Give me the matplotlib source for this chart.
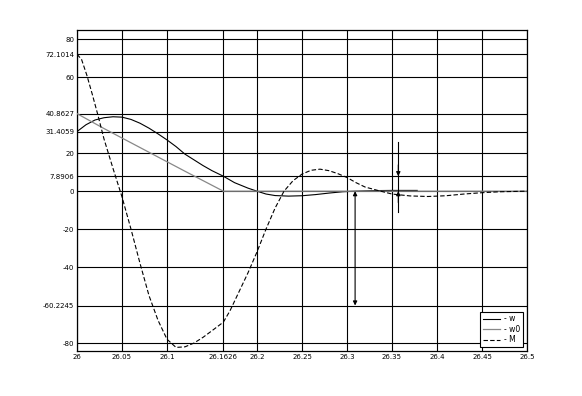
import matplotlib
matplotlib.use('Agg')
import matplotlib.pyplot as plt

# Осі та підписи
x_ticks = [26, 26.05, 26.1, 26.1626, 26.2, 26.25, 26.3, 26.35, 26.4, 26.45, 26.5]
x_labels = ["26", "26.05", "26.1", "26.1626", "26.2", "26.25", "26.3", "26.35", "26.4", "26.45", "26.5"]
y_ticks = [80, 72.1014, 60, 40.8627, 31.4059, 20, 7.8906, 0, -20, -40, -60.2245, -80]
y_labels = ["80", "72.1014", "60", "40.8627", "31.4059", "20", "7.8906", "0", "-20", "-40", "-60.2245", "-80"]

# Крива w (суцільна чорна)
w_x = [26.0, 26.01, 26.02, 26.03, 26.04, 26.05, 26.06, 26.07, 26.08, 26.09, 26.1,
       26.11, 26.12, 26.13, 26.14, 26.15, 26.1626, 26.175, 26.19, 26.2, 26.21,
       26.22, 26.235, 26.25, 26.265, 26.28, 26.295, 26.31, 26.33, 26.35, 26.378]
w_y = [31.4, 35.0, 37.5, 38.7, 39.2, 39.0, 37.8, 35.8, 33.2, 30.2, 27.0,
       23.5, 19.5, 16.5, 13.5, 10.8, 7.89, 4.5, 1.6, 0.0, -1.5,
       -2.3, -2.6, -2.4, -1.8, -1.0, -0.3, 0.0, 0.3, 0.4, 0.4]

# Крива w0 (сіра)
w0_x = [26.0, 26.03, 26.06, 26.09, 26.12, 26.1626, 26.5]
w0_y = [40.86, 33.0, 25.5, 18.0, 10.5, 0.0, 0.0]

# Крива M (штрихова)
m_x = [26.0, 26.005, 26.011, 26.017, 26.023, 26.03, 26.04, 26.05, 26.06, 26.07,
       26.08, 26.09, 26.1, 26.11, 26.12, 26.13, 26.14, 26.15, 26.1626, 26.17,
       26.18, 26.19, 26.2, 26.21, 26.22, 26.23, 26.24, 26.25, 26.26, 26.27,
       26.28, 26.29, 26.3, 26.31, 26.32, 26.335, 26.35, 26.37, 26.39, 26.41,
       26.43, 26.45, 26.47, 26.5]
m_y = [72.1, 69.5, 61.0, 51.0, 40.5, 27.5, 12.0, -3.0, -20.0, -38.0,
       -55.0, -68.0, -78.0, -82.3, -82.0, -80.0, -77.0, -73.5, -69.0, -63.0,
       -53.0, -43.0, -32.0, -20.0, -9.0, 0.0, 5.5, 9.0, 11.0, 11.6,
       10.8, 9.2, 7.2, 4.5, 2.2, 0.3, -1.5, -2.5, -2.8, -2.4,
       -1.5, -0.8, -0.3, 0.0]

# Стрілки-позначки
arrow1_x, arrow1_top, arrow1_bottom = 26.309, 0.0, -60.2245
arrow2_x, arrow2_hi, arrow2_lo = 26.357, 7.8906, 0.0
arrow2_span = (26.0, -11.0)

fig = plt.figure(figsize=(5.82, 3.96), dpi=100)
ax = fig.add_axes([0.1323, 0.1136, 0.7732, 0.8106])

ax.set_xlim(26, 26.5)
ax.set_ylim(-84.2, 84.9)
ax.set_xticks(x_ticks)
ax.set_xticklabels(x_labels)
ax.set_yticks(y_ticks)
ax.set_yticklabels(y_labels)
ax.tick_params(length=0, labelsize=5, pad=2)
ax.grid(True, color='black', linewidth=0.8)
for s in ax.spines.values():
    s.set_linewidth(0.9)

ax.plot(w_x, w_y, color='black', linewidth=0.8, label='- w', zorder=3)
ax.plot(w0_x, w0_y, color='#888888', linewidth=0.9, label='- w0', zorder=3)
ax.plot(m_x, m_y, color='black', linewidth=0.8, linestyle=(0, (4, 2)), label='- M', zorder=3)

# Двостороння стрілка
ax.annotate('', xy=(arrow1_x, arrow1_bottom), xytext=(arrow1_x, arrow1_top),
            arrowprops=dict(arrowstyle='<|-|>', color='black', lw=0.8,
                            mutation_scale=6, shrinkA=0, shrinkB=0), zorder=4)

# Стрілки ззовні
ax.plot([arrow2_x, arrow2_x], list(arrow2_span), color='black', linewidth=0.8, zorder=4)
ax.annotate('', xy=(arrow2_x, arrow2_hi), xytext=(arrow2_x, arrow2_hi + 6),
            arrowprops=dict(arrowstyle='-|>', color='black', lw=0.8,
                            mutation_scale=6, shrinkA=0, shrinkB=0), zorder=4)
ax.annotate('', xy=(arrow2_x, arrow2_lo), xytext=(arrow2_x, arrow2_lo - 6),
            arrowprops=dict(arrowstyle='-|>', color='black', lw=0.8,
                            mutation_scale=6, shrinkA=0, shrinkB=0), zorder=4)

leg = ax.legend(loc='lower right', bbox_to_anchor=(0.992, 0.012), borderaxespad=0,
                fontsize=5.5, fancybox=False, framealpha=1, edgecolor='black',
                handlelength=2.2, handletextpad=0.6, labelspacing=0.2,
                borderpad=0.35)
leg.get_frame().set_linewidth(0.8)

fig.savefig('out.png', dpi=100)
